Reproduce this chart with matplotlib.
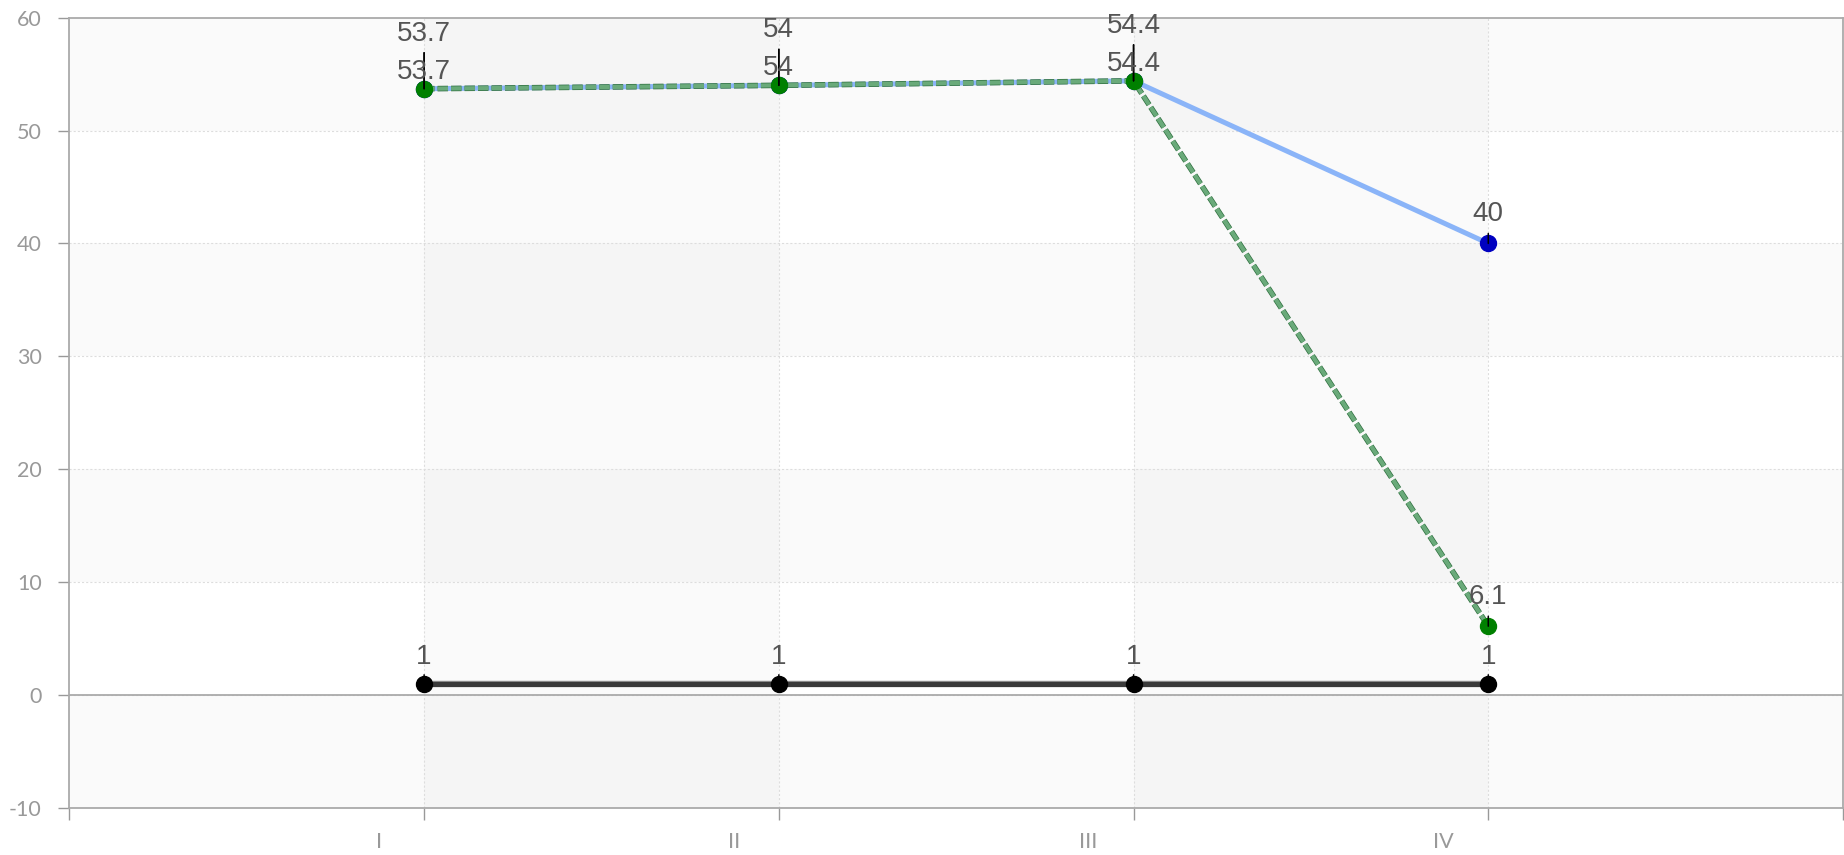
import numpy as np
import matplotlib
matplotlib.use("Agg")
import matplotlib.pyplot as plt
import matplotlib.patheffects as pe
from matplotlib.transforms import ScaledTranslation

plt.rcParams['lines.scale_dashes'] = False

# ---------------------------
# data
# ---------------------------
categories = ["I", "II", "III", "IV"]
blue_vals = [53.7, 54, 54.4, 40]
green_vals = [53.7, 54, 54.4, 6.1]
black_vals = [1, 1, 1, 1]

y_ticks = list(range(-10, 61, 10))

LABEL_COLOR = "#555555"
AXIS_COLOR = "#aaaaaa"
TICK_COLOR = "#999999"

fig = plt.figure(figsize=(18.44, 8.55), dpi=100)
ax = fig.add_axes([69.4 / 1844, 1 - 808 / 855, (1843 - 69.4) / 1844, (808 - 17.6) / 855])

x = np.arange(len(categories))
ax.set_xlim(-1, len(categories))
ax.set_ylim(-10, 60)

# ---------------------------
# background bands
# ---------------------------
for i, lo in enumerate(y_ticks[:-1]):
    if (i % 2) == 0:
        ax.axhspan(lo, lo + 10, color="#fafafa", lw=0, zorder=0)
for k in range(0, len(categories), 2):
    ax.axvspan(k, k + 1, color="black", alpha=0.018, lw=0, zorder=0.1)

# grid
for yv in y_ticks[1:-1]:
    ax.axhline(yv, color="#dddddd", lw=0.8, ls=(0, (1.5, 1.5)), zorder=0.5)
for xv in x:
    ax.axvline(xv, color="#dddddd", lw=0.8, ls=(0, (1.5, 1.5)), zorder=0.5)

# zero line
ax.axhline(0, color=AXIS_COLOR, lw=1.3, zorder=1)

# ---------------------------
# series
# ---------------------------
ax.plot(x, blue_vals, color="#8ab4f8", lw=3.6, zorder=3,
        marker="o", ms=11.5, mfc="#0000c0", mec="#0000c0",
        solid_capstyle="round")
ax.plot(x, green_vals, color="#6aaa7a", lw=3.0, zorder=4,
        dashes=(7.5, 2.2), dash_capstyle="butt",
        path_effects=[pe.Stroke(linewidth=4.0, foreground="#2f6f3f"), pe.Normal()])
ax.plot(x, green_vals, ls="none", marker="o", ms=11.5, mfc="#008000", mec="#008000", zorder=5)
ax.plot(x, black_vals, color="#3a3a3a", lw=3.6, zorder=3,
        path_effects=[pe.Stroke(linewidth=4.6, foreground="#8a8a8a"), pe.Normal()])
ax.plot(x, black_vals, ls="none", marker="o", ms=11.5, mfc="black", mec="black", zorder=5)


def label(xi, yi, val, base_off, guide_len):
    ax.annotate("", xy=(xi, yi), xytext=(0, guide_len), textcoords="offset pixels",
                arrowprops=dict(arrowstyle="-", color="black", lw=1.1, shrinkA=0, shrinkB=0),
                zorder=6)
    ax.annotate(f"{val:g}", xy=(xi, yi), xytext=(0, base_off), textcoords="offset pixels",
                ha="center", va="baseline", fontsize=20, color=LABEL_COLOR,
                fontfamily="Liberation Sans", zorder=7)


for i in range(len(categories)):
    if blue_vals[i] == green_vals[i]:
        label(x[i], blue_vals[i], blue_vals[i], 48, 36)
        label(x[i], green_vals[i], green_vals[i], 10, 36)
    else:
        label(x[i], blue_vals[i], blue_vals[i], 22, 10)
        label(x[i], green_vals[i], green_vals[i], 22, 10)
    label(x[i], black_vals[i], black_vals[i], 20, 9)

# ---------------------------
# axes styling
# ---------------------------
for s in ax.spines.values():
    s.set_color(AXIS_COLOR)
    s.set_linewidth(1.3)

ax.set_yticks(y_ticks)
ax.set_yticklabels([str(v) for v in y_ticks])
ax.set_xticks(np.arange(-1, len(categories) + 1))
ax.set_xticklabels([""] + categories + [""])

ax.tick_params(axis="y", length=8, width=1, color=TICK_COLOR, pad=12,
               labelsize=15.5, labelcolor=TICK_COLOR)
ax.tick_params(axis="x", length=8.5, width=1, color=TICK_COLOR, pad=9,
               labelsize=15.5, labelcolor=TICK_COLOR)
for t in ax.get_xticklabels() + ax.get_yticklabels():
    t.set_family(["Lato", "DejaVu Sans"])
shift = ScaledTranslation(-45 / 100, 0, fig.dpi_scale_trans)
for t in ax.get_xticklabels():
    t.set_transform(t.get_transform() + shift)

fig.savefig("out.png", dpi=100, facecolor="white")
